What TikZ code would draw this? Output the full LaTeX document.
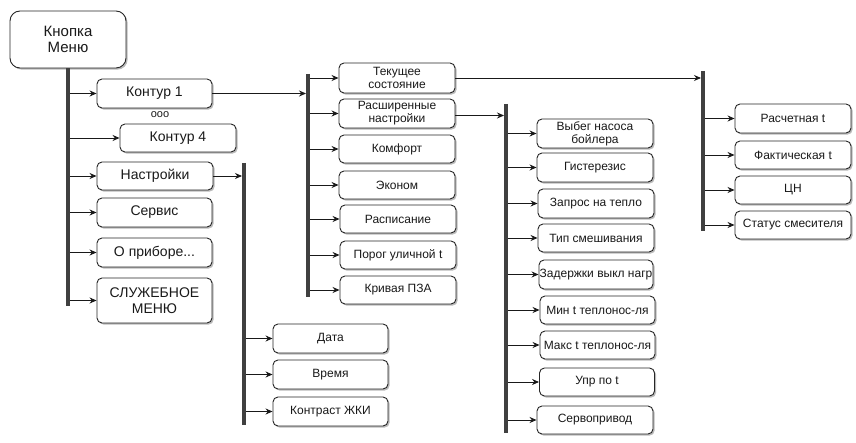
\documentclass[tikz,border=0pt]{standalone}
\usepackage{fontspec}
\setmainfont{Liberation Sans}
\usetikzlibrary{arrows.meta,shadows}
\begin{document}
\begin{tikzpicture}[x=1pt,y=-1pt,
 box/.style={draw=black!85, line width=0.9pt, rounded corners=5pt, fill=white, inner sep=0pt, align=center, text=black!90,
   drop shadow={shadow xshift=1.6pt, shadow yshift=-1.6pt, fill=black!45, opacity=0.6}},
 sbox/.style={box, minimum width=116pt, minimum height=29pt, font=\fontsize{12}{13}\selectfont},
 mbox/.style={box, minimum width=115pt, minimum height=29pt, font=\fontsize{14}{16}\selectfont},
 bar/.style={line width=4pt, draw=black!75},
 arr/.style={line width=0.9pt, draw=black!90, -{Stealth[length=7pt,width=6pt]}},
]
\useasboundingbox (0,0) rectangle (856,443);

% column 1
\node[box, rounded corners=10pt, minimum width=116pt, minimum height=57pt, font=\fontsize{15}{16.5}\selectfont] (menu) at (68,39.5) {Кнопка\\Меню};
\node[mbox] (k1) at (154.5,93.5) {Контур 1};
\node[font=\fontsize{11}{11}\selectfont, text=black!90] (dots) at (160,115) {ооо};
\node[mbox, minimum width=116pt, minimum height=28pt] (k4) at (178,138) {Контур 4};
\node[mbox, minimum width=116pt, minimum height=28pt] (nastr) at (155,176) {Настройки};
\node[mbox] (serv) at (154.5,212.5) {Сервис};
\node[mbox] (opr) at (154.5,252.5) {О приборе...};
\node[mbox, minimum height=45pt] (sluzh) at (154.5,300.5) {СЛУЖЕБНОЕ\\МЕНЮ};

% column 2 (settings)
\node[sbox, minimum width=115pt] (data) at (330.5,338.5) {Дата};
\node[sbox, minimum width=115pt] (vrem) at (330.5,374.5) {Время};
\node[sbox, minimum width=115pt] (kontr) at (330.5,411.5) {Контраст ЖКИ};

% column 3 (contour)
\node[sbox, minimum height=30pt] (tek) at (397,78) {Текущее\\состояние};
\node[sbox] (rasch) at (397,113.5) {Расширенные\\настройки};
\node[sbox, minimum height=28pt] (komf) at (397,149) {Комфорт};
\node[sbox, minimum height=28pt] (ekon) at (397,185) {Эконом};
\node[sbox, minimum height=28pt] (rasp) at (398,219) {Расписание};
\node[sbox, minimum height=28pt] (porog) at (398,255) {Порог уличной t};
\node[sbox, minimum height=28pt] (kriv) at (398,290) {Кривая ПЗА};

% column 4 (extended)
\node[sbox] (vybeg) at (595,133.5) {Выбег насоса\\бойлера};
\node[sbox] (gist) at (595,167.5) {Гистерезис};
\node[sbox] (zapr) at (596,203.5) {Запрос на тепло};
\node[sbox, minimum height=28pt] (tip) at (596,238) {Тип смешивания};
\node[sbox, minimum width=114pt] (zad) at (596,274.5) {Задержки выкл нагр};
\node[sbox, minimum width=115pt, minimum height=28pt] (tmin) at (597.5,310) {Мин t теплонос-ля};
\node[sbox, minimum width=115pt, minimum height=28pt] (tmax) at (597.5,345) {Макс t теплонос-ля};
\node[sbox, minimum width=115pt, minimum height=28pt] (upr) at (597,382) {Упр по t};
\node[sbox, minimum height=28pt] (servo) at (595,420) {Сервопривод};

% column 5 (current state)
\node[sbox] (rt) at (793,118.5) {Расчетная t};
\node[sbox, minimum height=28pt] (ft) at (793,155) {Фактическая t};
\node[sbox, minimum height=28pt] (cn) at (793,190) {ЦН};
\node[sbox, minimum height=28pt] (st) at (793,225) {Статус смесителя};

% bar coordinates
\coordinate (b1t) at (menu.south);
\coordinate (b1b) at (68,306);
\coordinate (b2t) at (244,163);
\coordinate (b2b) at (244,425);
\coordinate (b3t) at (308,74);
\coordinate (b3b) at (308,297);
\coordinate (b4t) at (506,104);
\coordinate (b4b) at (506,433);
\coordinate (b5t) at (703,71);
\coordinate (b5b) at (703,231);

% arrows from bars
\foreach \n in {k1,k4,nastr,serv,opr,sluzh} \draw[arr] (b1t |- \n.west) -- (\n.west);
\foreach \n in {data,vrem,kontr} \draw[arr] (b2t |- \n.west) -- (\n.west);
\foreach \n in {tek,rasch,komf,ekon,rasp,porog,kriv} \draw[arr] (b3t |- \n.west) -- (\n.west);
\foreach \n in {vybeg,gist,zapr,tip,zad,tmin,tmax,upr,servo} \draw[arr] (b4t |- \n.west) -- (\n.west);
\foreach \n in {rt,ft,cn,st} \draw[arr] (b5t |- \n.west) -- (\n.west);

% arrows to bars
\draw[arr, shorten >=2pt] (k1.east) -- (k1.east -| b3t);
\draw[arr, shorten >=2pt] (nastr.east) -- (nastr.east -| b2t);
\draw[arr, shorten >=2pt] ([yshift=-2pt]rasch.east) -- ([yshift=-2pt]rasch.east -| b4t);
\draw[arr, shorten >=2pt] (tek.east) -- (tek.east -| b5t);

% bars
\draw[bar] (b1t) -- (b1b);
\draw[bar] (b2t) -- (b2b);
\draw[bar] (b3t) -- (b3b);
\draw[bar] (b4t) -- (b4b);
\draw[bar] (b5t) -- (b5b);
\end{tikzpicture}
\end{document}
